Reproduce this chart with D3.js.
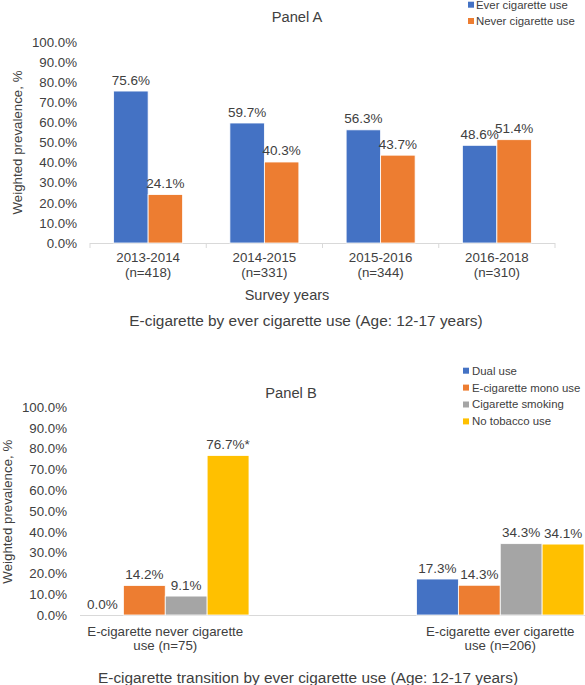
<!DOCTYPE html>
<html lang="en">
  <head>
    <meta charset="utf-8">
    <title>E-cigarette panels</title>
    <script src="https://cdn.jsdelivr.net/npm/d3@7"></script>
    <style>
      body { margin: 0; background: #fff; }
      text { font-family: "Liberation Sans", Arial, sans-serif; fill: #404040; }
    </style>
  </head>
  <body>
    <script>

      // Panel A data
      var yearsA = ["2013-2014", "2014-2015", "2015-2016", "2016-2018"];
      var nA = ["(n=418)", "(n=331)", "(n=344)", "(n=310)"];
      var seriesA = ["Ever cigarette use", "Never cigarette use"];
      var everA = [75.6, 59.7, 56.3, 48.6];
      var neverA = [24.1, 40.3, 43.7, 51.4];

      // Panel B data
      var groupsB = [["E-cigarette never cigarette", "use (n=75)"],
                     ["E-cigarette ever cigarette", "use (n=206)"]];
      var seriesB = ["Dual use", "E-cigarette mono use", "Cigarette smoking", "No tobacco use"];
      var dualB = [0.0, 17.3];
      var monoB = [14.2, 14.3];
      var smokeB = [9.1, 34.3];
      var noneB = [76.7, 34.1];
      var noteB = [["", "", "", "*"], ["", "", "", ""]];

      var yTicks = [0, 10, 20, 30, 40, 50, 60, 70, 80, 90, 100];
      var colors = ["#4472C4", "#ED7D31", "#A5A5A5", "#FFC000"];

      var w = 585, h = 685;
      var svg = d3.select("body").append("svg")
                  .attr("width", w)
                  .attr("height", h);

      var pct = function(d) { return d.toFixed(1) + "%"; };

      function drawPanel(cfg) {
        var g = svg.append("g");

        var yScale = d3.scaleLinear().domain([0, 100]).range([cfg.y0, cfg.y100]);

        var xScale = d3.scaleBand()
                       .domain(d3.range(cfg.values[0].length))
                       .range(cfg.xRange)
                       .paddingInner(cfg.padIn)
                       .paddingOuter(cfg.padOut);

        var sScale = d3.scaleBand()
                       .domain(d3.range(cfg.values.length))
                       .range([0, xScale.bandwidth()])
                       .paddingOuter(cfg.sPad);

        // Y axis
        var yAxis = d3.axisLeft(yScale)
                      .tickValues(yTicks)
                      .tickSize(0)
                      .tickPadding(cfg.tickPad)
                      .tickFormat(pct);
        var ya = g.append("g")
                  .attr("transform", "translate(" + cfg.axisX + ",0)")
                  .call(yAxis);
        ya.select(".domain").remove();
        ya.selectAll("text")
          .attr("font-size", "13.3px")
          .attr("fill", "#404040")
          .attr("font-family", "Liberation Sans, Arial, sans-serif");

        // baseline
        g.append("line")
          .attr("x1", cfg.baseX[0]).attr("x2", cfg.baseX[1])
          .attr("y1", yScale(0) + 0.5).attr("y2", yScale(0) + 0.5)
          .attr("stroke", "#d9d9d9").attr("stroke-width", 1);

        if (cfg.sepTicks) {
          var edges = xScale.domain().map(function(d) { return xScale(d); });
          edges.push(xScale.range()[1]);
          g.selectAll(".sep").data(edges).enter().append("line")
            .attr("x1", function(d) { return d; })
            .attr("x2", function(d) { return d; })
            .attr("y1", yScale(0))
            .attr("y2", yScale(0) + 5)
            .attr("stroke", "#d9d9d9");
        }

        // bars
        var cells = [];
        cfg.values.forEach(function(arr, s) {
          arr.forEach(function(v, c) { cells.push({ s: s, c: c, v: v }); });
        });

        g.selectAll(".bar").data(cells).enter().append("rect")
          .attr("x", function(d) { return xScale(d.c) + sScale(d.s); })
          .attr("y", function(d) { return yScale(d.v); })
          .attr("width", sScale.bandwidth())
          .attr("height", function(d) { return yScale(0) - yScale(d.v); })
          .attr("fill", function(d) { return colors[d.s]; })
          .attr("stroke", "#fff")
          .attr("stroke-width", 0.8);

        g.selectAll(".lbl").data(cells).enter().append("text")
          .attr("x", function(d) { return xScale(d.c) + sScale(d.s) + sScale.bandwidth() / 2; })
          .attr("y", function(d) { return yScale(d.v) - 6.5; })
          .attr("text-anchor", "middle")
          .attr("font-size", "13.5px")
          .text(function(d) { return pct(d.v) + (cfg.notes ? cfg.notes[d.c][d.s] : ""); });

        // category labels
        cfg.cats.forEach(function(lines, c) {
          var t = g.append("text")
                   .attr("text-anchor", "middle")
                   .attr("font-size", "13.3px")
                   .attr("x", xScale(c) + xScale.bandwidth() / 2)
                   .attr("y", cfg.catY);
          lines.forEach(function(line, i) {
            t.append("tspan")
              .attr("x", xScale(c) + xScale.bandwidth() / 2)
              .attr("dy", i === 0 ? 0 : cfg.catLine)
              .text(line);
          });
        });

        // y title
        g.append("text")
          .attr("transform", "translate(" + cfg.yTitle[0] + "," + cfg.yTitle[1] + ") rotate(-90)")
          .attr("text-anchor", "middle")
          .attr("dy", "0.35em")
          .attr("font-size", "13.3px")
          .text("Weighted prevalence, %");

        // panel title
        g.append("text")
          .attr("x", cfg.title[0]).attr("y", cfg.title[1])
          .attr("text-anchor", "middle")
          .attr("font-size", "14.7px")
          .text(cfg.titleText);

        if (cfg.xTitleText) {
          g.append("text")
            .attr("x", cfg.xTitle[0]).attr("y", cfg.xTitle[1])
            .attr("text-anchor", "middle")
            .attr("font-size", "14.5px")
            .text(cfg.xTitleText);
        }

        g.append("text")
          .attr("x", cfg.sub[0]).attr("y", cfg.sub[1])
          .attr("text-anchor", "middle")
          .attr("font-size", "15.4px")
          .text(cfg.subText);

        // legend
        var lg = g.append("g")
                  .attr("transform", "translate(" + cfg.legend[0] + "," + cfg.legend[1] + ")");
        cfg.series.forEach(function(name, s) {
          lg.append("rect")
            .attr("x", 0).attr("y", s * cfg.legend[2] - 3)
            .attr("width", 6).attr("height", 6)
            .attr("fill", colors[s]);
          lg.append("text")
            .attr("x", cfg.legend[3]).attr("y", s * cfg.legend[2])
            .attr("dy", "0.35em")
            .attr("font-size", "11.4px")
            .text(name);
        });
      }

      drawPanel({
        values: [everA, neverA],
        notes: null,
        cats: yearsA.map(function(d, i) { return [d, nA[i]]; }),
        series: seriesA,
        y0: 243, y100: 42,
        xRange: [90, 555], padIn: 0, padOut: 0, sPad: 0.685,
        axisX: 90, tickPad: 13,
        baseX: [90, 555], sepTicks: true,
        catY: 262, catLine: 15.4,
        yTitle: [17.5, 142.5],
        title: [297, 22], titleText: "Panel A",
        xTitle: [287, 300], xTitleText: "Survey years",
        sub: [306, 325.5], subText: "E-cigarette by ever cigarette use (Age: 12-17 years)",
        legend: [468, 4.7, 16.3, 8]
      });

      drawPanel({
        values: [dualB, monoB, smokeB, noneB],
        notes: noteB,
        cats: groupsB,
        series: seriesB,
        y0: 615, y100: 407,
        xRange: [81.5, 584], padIn: 0.5, padOut: 0, sPad: 0,
        axisX: 80, tickPad: 13,
        baseX: [80, 585], sepTicks: false,
        catY: 635.5, catLine: 14.3,
        yTitle: [7.5, 511.7],
        title: [291, 398], titleText: "Panel B",
        xTitle: null, xTitleText: null,
        sub: [308, 683], subText: "E-cigarette transition by ever cigarette use (Age: 12-17 years)",
        legend: [463, 370.7, 16.9, 9]
      });

    </script>
  </body>
</html>
